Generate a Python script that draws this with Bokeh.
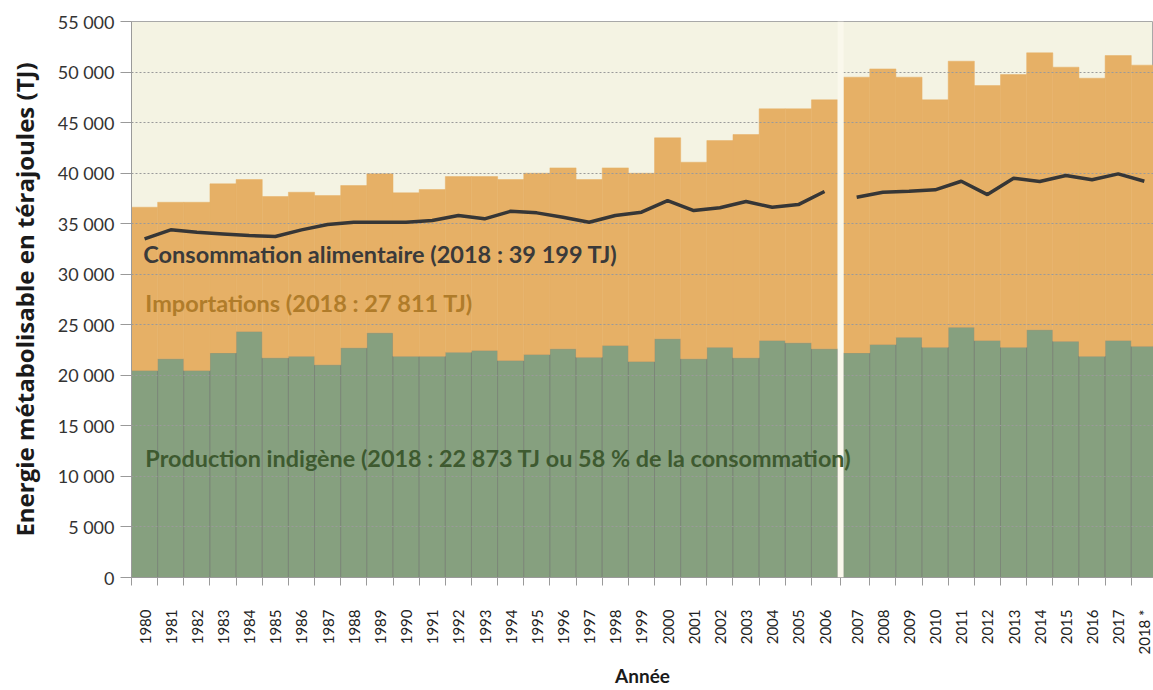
from bokeh.plotting import figure
from bokeh.models import ColumnDataSource, Range1d, FixedTicker, Label, BoxAnnotation
from bokeh.embed import file_html
from bokeh.resources import INLINE
import math

years = list(range(1980, 2019))
production = [20470, 21630, 20470, 22220, 24330, 21730, 21890, 21040, 22720, 24200,
              21890, 21890, 22290, 22450, 21460, 22060, 22620, 21790, 22950, 21360,
              23610, 21630, 22780, 21730, 23440, 23210, 22620, 22220, 23050, 23770,
              22780, 24760, 23440, 22780, 24500, 23370, 21890, 23440, 22873]
imports = [16160, 15490, 16650, 16720, 15040, 15960, 16220, 16740, 16050, 15730,
           16160, 16490, 17370, 17210, 17910, 17930, 17900, 17580, 17570, 18630,
           19880, 19450, 20440, 22090, 22920, 23150, 24630, 27270, 27260, 25720,
           24470, 26310, 25220, 26970, 27400, 27110, 27500, 28190, 27811]
consumption = [33500, 34390, 34150, 33990, 33830, 33730, 34390, 34920, 35140, 35140,
               35140, 35310, 35810, 35480, 36230, 36070, 35640, 35140, 35810, 36140,
               37290, 36300, 36570, 37190, 36630, 36890, 38180, 37620, 38110, 38210,
               38350, 39200, 37880, 39500, 39170, 39760, 39340, 39930, 39199]
year_labels = [str(y) for y in years[:-1]] + ["2018 *"]
y_ticks = list(range(0, 55001, 5000))
y_tick_labels = ["0"] + ["{:,}".format(v).replace(",", " ") for v in y_ticks[1:]]

GAP = 23      # break between 2006 and 2007 (in 1/100 of a bar)
UNIT = 100

def xpos(i, y):
    return i * UNIT + UNIT / 2 + (GAP if y >= 2007 else 0)

xs = [xpos(i, y) for i, y in enumerate(years)]
totals = [p + m for p, m in zip(production, imports)]
src = ColumnDataSource(dict(x=xs, prod=production, tot=totals, imp=imports, cons=consumption))

# line with a break between 2006 and 2007
lx, ly = [], []
for i, y in enumerate(years):
    if y == 2007:
        lx.append(float("nan")); ly.append(float("nan"))
    lx.append(xs[i]); ly.append(consumption[i])

n = len(years)
x_end = xs[-1] - UNIT / 2 + 85

p = figure(width=1153, height=690, output_backend="svg", toolbar_location=None,
           x_range=Range1d(0, x_end), y_range=Range1d(0, 55000),
           min_border_left=131, min_border_right=0, min_border_top=21, min_border_bottom=113)
p.background_fill_color = "#f4f3e3"
p.border_fill_color = "white"
p.outline_line_color = "#a8a8a8"

p.vbar(x="x", width=UNIT, bottom=0, top="prod", source=src,
       fill_color="#86a07f", line_color="#7c8778", line_width=1)
p.vbar(x="x", width=UNIT, bottom="prod", top="tot", source=src,
       fill_color="#e6b066", line_color="#e6b066", line_width=0.5)

lr = p.line(lx, ly, line_color="#363636", line_width=3.5)
lr.level = "overlay"

# white break strip
strip = BoxAnnotation(left=27 * UNIT, right=27 * UNIT + GAP, fill_color="#faf8ec",
                      fill_alpha=1, line_color=None, level="annotation")
p.add_layout(strip)

# grids
p.xgrid.visible = False
p.ygrid.ticker = FixedTicker(ticks=y_ticks)
p.ygrid.grid_line_color = "#9a9a9a"
p.ygrid.grid_line_dash = "2 2"
p.ygrid.grid_line_width = 1
p.ygrid.level = "guide"

# y axis
ya = p.yaxis[0]
ya.ticker = FixedTicker(ticks=y_ticks)
ya.major_label_overrides = {v: s for v, s in zip(y_ticks, y_tick_labels)}
ya.axis_label = "Energie métabolisable en térajoules (TJ)"
ya.axis_label_text_font = "Open Sans"
ya.axis_label_text_font_style = "bold"
ya.axis_label_text_font_size = "24px"
ya.axis_label_text_color = "#1a1a1a"
ya.axis_label_standoff = 14
ya.major_label_text_font = "Lato"
ya.major_label_text_font_size = "18px"
ya.major_label_text_color = "#333333"
ya.major_label_standoff = 6
ya.major_tick_out = 11
ya.major_tick_in = 0
ya.minor_tick_out = 0
ya.minor_tick_in = 0
ya.axis_line_color = "#9a9a9a"
ya.major_tick_line_color = "#9a9a9a"

# x axis
bounds = [i * UNIT for i in range(27)] + [27 * UNIT + GAP / 2] + \
         [i * UNIT + GAP for i in range(28, n)]
xa = p.xaxis[0]
xa.ticker = FixedTicker(ticks=xs, minor_ticks=bounds)
xa.major_label_overrides = {x: s for x, s in zip(xs, year_labels)}
xa.major_label_orientation = math.pi / 2
xa.major_label_text_font = "Lato"
xa.major_label_text_font_size = "15px"
xa.major_label_text_color = "#222222"
xa.major_label_standoff = 24
xa.major_tick_out = 0
xa.major_tick_in = 0
xa.minor_tick_out = 8
xa.minor_tick_in = 0
xa.minor_tick_line_color = "#9a9a9a"
xa.axis_line_color = "#9a9a9a"
xa.axis_label = "Année"
xa.axis_label_text_font = "Lato"
xa.axis_label_text_font_style = "bold"
xa.axis_label_text_font_size = "19px"
xa.axis_label_text_color = "#1a1a1a"
xa.axis_label_standoff = 6

# series labels
p.add_layout(Label(x=45, y=32050, text="Consommation alimentaire (2018 : 39 199 TJ)",
                   text_font="Lato", text_font_style="bold", text_font_size="23.5px",
                   text_color="#3a3a3a", text_baseline="middle"))
p.add_layout(Label(x=53, y=27200, text="Importations (2018 : 27 811 TJ)",
                   text_font="Lato", text_font_style="bold", text_font_size="23.5px",
                   text_color="#b07c2a", text_baseline="middle"))
p.add_layout(Label(x=53, y=11870,
                   text="Production indigène (2018 : 22 873 TJ ou 58 % de la consommation)",
                   text_font="Lato", text_font_style="bold", text_font_size="23.4px",
                   text_color="#3e5a30", text_baseline="middle"))

open("out.html", "w").write(file_html(p, INLINE))
